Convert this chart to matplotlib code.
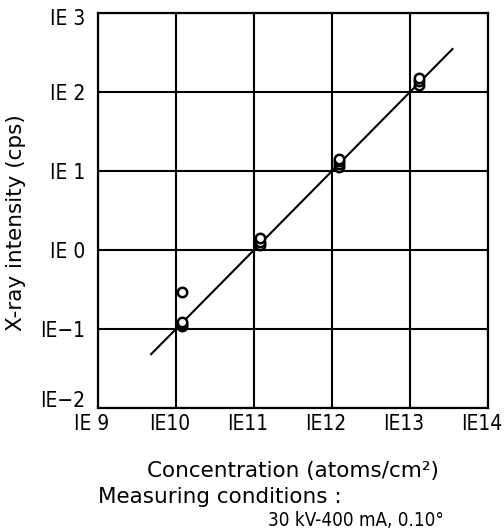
import matplotlib
matplotlib.use("Agg")
import matplotlib.pyplot as plt
import matplotlib.transforms as mtransforms

plt.rcParams["font.family"] = ["DejaVu Sans"]

# data
conc = [1.2e10, 1.2e10, 1.2e10, 1.2e10,
        1.2e11, 1.2e11, 1.2e11,
        1.22e12, 1.22e12, 1.22e12, 1.22e12,
        1.3e13, 1.3e13, 1.3e13]
intensity = [0.29, 0.108, 0.116, 0.124,
             1.15, 1.28, 1.4,
             11.2, 12.2, 13.2, 14.2,
             122, 136, 150]

fit_x = [4.8e9, 3.5e13]
fit_y = [4.8e-2, 3.5e2]

x_ticks = [1e9, 1e10, 1e11, 1e12, 1e13, 1e14]
x_labels = ["IE 9", "IE10", "IE11", "IE12", "IE13", "IE14"]
y_ticks = [1e-2, 1e-1, 1e0, 1e1, 1e2, 1e3]
y_labels = ["IE\u22122", "IE\u22121", "IE 0", "IE 1", "IE 2", "IE 3"]

fig = plt.figure(figsize=(5.04, 5.28), dpi=100)
ax = fig.add_axes([98 / 504, 1 - 408 / 528, 390 / 504, 395 / 528])
ax.set_xscale("log")
ax.set_yscale("log")
ax.set_xlim(1e9, 1e14)
ax.set_ylim(1e-2, 1e3)

ax.grid(True, which="major", color="black", linewidth=1.5)
ax.minorticks_off()
for sp in ax.spines.values():
    sp.set_linewidth(1.6)

ax.plot(fit_x, fit_y, color="black", linewidth=1.5, zorder=3)
ax.scatter(conc, intensity, s=46, facecolor="white", edgecolor="black",
           linewidth=1.8, zorder=4)

ax.set_xticks(x_ticks)
ax.set_xticklabels(x_labels, fontsize=15, fontstretch="condensed")
ax.set_yticks(y_ticks)
ax.set_yticklabels(y_labels, fontsize=15, fontstretch="condensed")
ax.tick_params(axis="x", length=0, pad=4)
ax.tick_params(axis="y", length=0, pad=9)

# small nudges so the end labels sit like the original
shift = mtransforms.ScaledTranslation(-6 / 100, 0, fig.dpi_scale_trans)
for lab in ax.get_xticklabels():
    lab.set_transform(lab.get_transform() + shift)
ylabs = ax.get_yticklabels()
ylabs[0].set_transform(ylabs[0].get_transform()
                       + mtransforms.ScaledTranslation(0, 9 / 100, fig.dpi_scale_trans))
ylabs[-1].set_transform(ylabs[-1].get_transform()
                        + mtransforms.ScaledTranslation(0, -4 / 100, fig.dpi_scale_trans))

ax.set_ylabel("X-ray intensity (cps)", fontsize=15.5)
ax.yaxis.set_label_coords(-72 / 390, 0.47)
ax.set_xlabel("Concentration (atoms/cm\u00b2)", fontsize=15.5, labelpad=20)

fig.text(98 / 504, 1 - 497 / 528, "Measuring conditions :", fontsize=15.5,
         ha="left", va="center")
fig.text(268 / 504, 1 - 520 / 528, "30 kV-400 mA, 0.10\u00b0", fontsize=13.5,
         fontstretch="condensed", ha="left", va="center")

fig.savefig("out.png", dpi=100, facecolor="white")
